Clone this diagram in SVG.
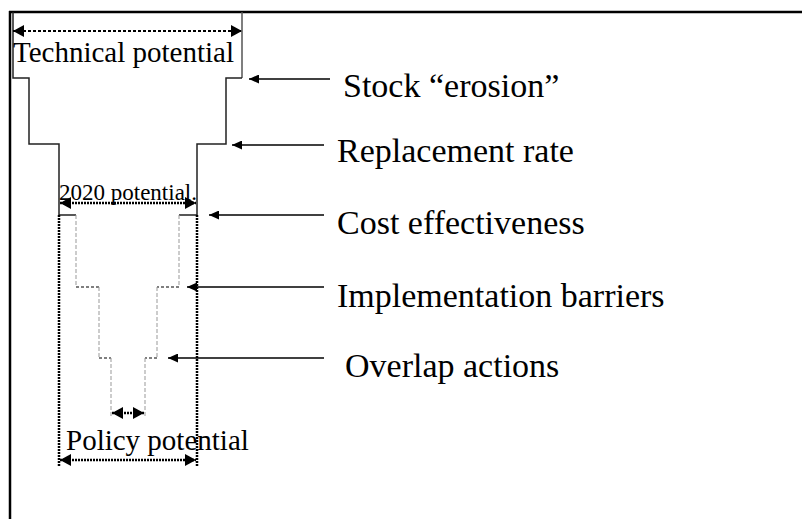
<svg xmlns="http://www.w3.org/2000/svg" width="802" height="519" viewBox="0 0 802 519">
<style>
.frame{stroke:#000;stroke-width:2.5;fill:none}
.solid{stroke:#222;stroke-width:1.5;fill:none}
.edge{stroke:#555;stroke-width:1.5;fill:none}
.gray{stroke:#999;stroke-width:1;stroke-dasharray:4,2;fill:none}
.dash{stroke:#000;stroke-width:1.2;stroke-dasharray:3,2;fill:none}
.heavy{stroke:#000;stroke-width:2.5;stroke-dasharray:2,1;fill:none}
.dim{stroke:#000;stroke-width:2;stroke-dasharray:3,2;fill:none}
.lbl{font-family:"Liberation Serif","Times New Roman",serif;fill:#000}
.arr{stroke:#000;stroke-width:1.3;fill:none;marker-end:url(#ah)}
.dbl{marker-start:url(#bs);marker-end:url(#be)}
</style>
<defs>
<marker id="ah" markerUnits="userSpaceOnUse" markerWidth="11" markerHeight="9" refX="10" refY="4.5" orient="auto"><path d="M0,0 L10,4.5 L0,9 Z" fill="#000"/></marker>
<marker id="be" markerUnits="userSpaceOnUse" markerWidth="12" markerHeight="12" refX="11" refY="6" orient="auto"><path d="M0,0 L11,6 L0,12 Z" fill="#000"/></marker>
<marker id="bs" markerUnits="userSpaceOnUse" markerWidth="12" markerHeight="12" refX="0" refY="6" orient="auto"><path d="M11,0 L0,6 L11,12 Z" fill="#000"/></marker>
</defs>
<g id="frame">
<line class="frame" x1="9" y1="12" x2="802" y2="12"/>
<line class="frame" x1="10" y1="11" x2="10" y2="519"/>
</g>
<g id="funnel">
<polyline class="solid" points="13,12 13,78 29,78 29,144 59,144 59,215 76,215"/>
<polyline class="edge" points="242,12 242,78"/>
<polyline class="solid" points="242,78 226,78 226,144 197,144 197,215 179,215"/>
<line class="gray" x1="76" y1="215" x2="76" y2="287"/>
<line class="dash" x1="76" y1="287" x2="99" y2="287"/>
<line class="gray" x1="99" y1="287" x2="99" y2="358"/>
<line class="dash" x1="99" y1="358" x2="111" y2="358"/>
<line class="gray" x1="111" y1="358" x2="111" y2="418"/>
<line class="gray" x1="179" y1="215" x2="179" y2="287"/>
<line class="dash" x1="179" y1="287" x2="157" y2="287"/>
<line class="gray" x1="157" y1="287" x2="157" y2="358"/>
<line class="dash" x1="157" y1="358" x2="145" y2="358"/>
<line class="gray" x1="145" y1="358" x2="145" y2="418"/>
<line class="heavy" x1="59" y1="215" x2="59" y2="466"/>
<line class="heavy" x1="197" y1="215" x2="197" y2="466"/>
</g>
<g id="technical-potential">
<line class="dim dbl" x1="13" y1="31" x2="242" y2="31"/>
<text class="lbl" x="13" y="62" font-size="29">Technical potential</text>
</g>
<g id="potential-2020">
<line class="heavy dbl" x1="60" y1="203" x2="196" y2="203"/>
<text class="lbl" x="59" y="200" font-size="23">2020 potential.</text>
</g>
<g id="overlap-gap">
<line class="heavy dbl" x1="112" y1="413" x2="144" y2="413"/>
</g>
<g id="policy-potential">
<line class="heavy dbl" x1="60" y1="460" x2="196" y2="460"/>
<text class="lbl" x="66" y="450" font-size="29">Policy potential</text>
</g>
<g id="stock-erosion"><text class="lbl" x="343" y="97" font-size="34">Stock “erosion”</text></g>
<g id="replacement-rate"><text class="lbl" x="337" y="162" font-size="34">Replacement rate</text></g>
<g id="cost-effectiveness"><text class="lbl" x="337" y="234" font-size="34">Cost effectiveness</text></g>
<g id="implementation-barriers"><text class="lbl" x="337" y="307" font-size="34">Implementation barriers</text></g>
<g id="overlap-actions"><text class="lbl" x="345" y="377" font-size="34">Overlap actions</text></g>
<g id="connectors">
<line class="arr" x1="330" y1="79" x2="249" y2="79"/>
<line class="arr" x1="324" y1="145" x2="232" y2="145"/>
<line class="arr" x1="324" y1="215" x2="209" y2="215"/>
<line class="arr" x1="324" y1="287" x2="187" y2="287"/>
<line class="arr" x1="324" y1="358" x2="168" y2="358"/>
</g>
</svg>
